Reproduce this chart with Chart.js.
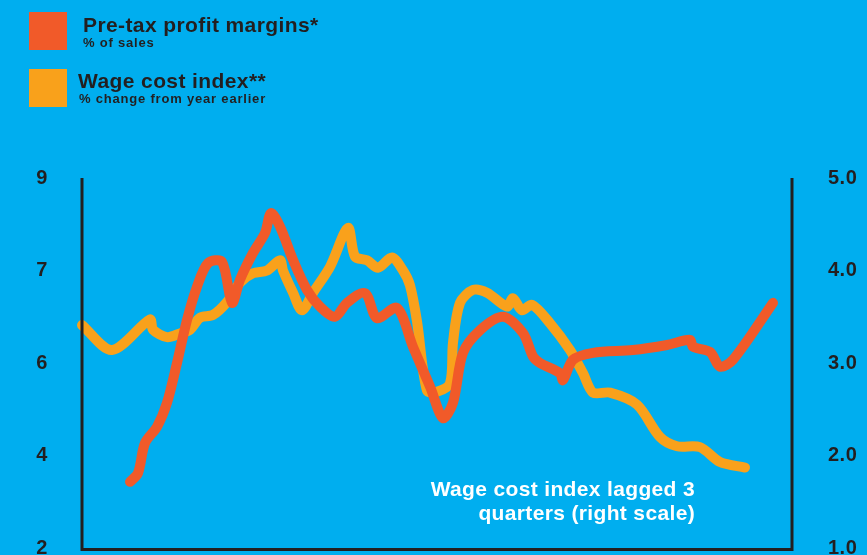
<!DOCTYPE html>
<html>
<head>
<meta charset="utf-8">
<script src="https://cdn.jsdelivr.net/npm/chart.js@4.4.1/dist/chart.umd.min.js"></script>
<style>
  html, body { margin: 0; padding: 0; background: #00AEEF; }
  #wrap { width: 867px; height: 555px; }
</style>
</head>
<body>
<div id="wrap"><canvas id="c" width="867" height="555"></canvas></div>
<script>
// ---- Data (x = quarter index) ----
const profitQuarters = [4.8, 5.6, 6.3, 7.5, 8.5, 9.5, 10.5, 11.5, 12.6, 14.0, 15.0, 15.8, 17.1, 18.3, 18.9, 19.8, 21.1, 22.5, 23.8, 25.3, 26.5, 28.3, 29.5, 31.5, 33.1, 34.8, 36.1, 37.1, 38.1, 39.8, 42.1, 44.1, 45.1, 45.8, 47.8, 48.1, 49.1, 51.1, 55.1, 58.5, 60.8, 61.1, 62.8, 63.8, 65.1, 69.1];
const profitMargins = [3.43, 3.62, 4.27, 4.62, 5.14, 6.0, 6.93, 7.65, 8.16, 8.19, 7.3, 7.8, 8.38, 8.81, 9.24, 8.95, 8.23, 7.58, 7.22, 7.0, 7.3, 7.51, 6.97, 7.19, 6.35, 5.49, 4.81, 5.14, 6.22, 6.71, 7.0, 6.65, 6.14, 6.0, 5.78, 5.63, 6.07, 6.22, 6.28, 6.39, 6.5, 6.35, 6.24, 5.92, 6.07, 7.3];

const wageQuarters = [0.0, 3.0, 6.8, 7.1, 8.5, 9.8, 10.8, 11.8, 13.1, 14.5, 15.8, 17.1, 18.5, 19.8, 20.1, 21.1, 22.0, 23.1, 24.8, 26.6, 27.3, 28.5, 29.6, 31.0, 32.1, 32.8, 33.5, 34.5, 35.5, 36.8, 37.1, 37.8, 39.1, 40.5, 42.5, 43.1, 44.0, 45.0, 46.8, 48.8, 50.1, 51.1, 52.8, 55.5, 57.8, 59.5, 61.8, 63.8, 66.3];
const wageCostIndex = [3.41, 3.14, 3.47, 3.36, 3.28, 3.32, 3.36, 3.49, 3.52, 3.66, 3.87, 3.97, 4.0, 4.11, 4.0, 3.76, 3.57, 3.76, 4.04, 4.46, 4.15, 4.11, 4.03, 4.14, 4.0, 3.84, 3.45, 2.7, 2.69, 2.78, 3.22, 3.65, 3.79, 3.76, 3.61, 3.7, 3.57, 3.63, 3.43, 3.14, 2.89, 2.68, 2.68, 2.55, 2.2, 2.1, 2.09, 1.93, 1.87];

const leftTickValues = [2, 4, 6, 8, 10];
const leftTickLabels = ['2', '4', '6', '7', '9'];
const rightTickValues = [1, 2, 3, 4, 5];
const rightTickLabels = ['1.0', '2.0', '3.0', '4.0', '5.0'];

const seriesNames = ['Pre-tax profit margins*', 'Wage cost index**'];
const seriesSubtitles = ['% of sales', '% change from year earlier'];
const annotationLines = ['Wage cost index lagged 3', 'quarters (right scale)'];

const BG = '#00AEEF', RED = '#F15A29', ORANGE = '#F9A11B', INK = '#231F20';
const FONT = '"Liberation Sans", Arial, Helvetica, sans-serif';

function spaced(ctx, px) { if ('letterSpacing' in ctx) ctx.letterSpacing = px + 'px'; }

const decor = {
  id: 'decor',
  beforeDraw(chart) {
    const ctx = chart.ctx;
    ctx.save();
    ctx.fillStyle = BG;
    ctx.fillRect(0, 0, chart.width, chart.height);
    ctx.restore();
  },
  afterDraw(chart) {
    const ctx = chart.ctx;
    const a = chart.chartArea;
    const yL = chart.scales.yL, yR = chart.scales.yR;
    ctx.save();
    // axis lines
    ctx.strokeStyle = INK;
    ctx.lineWidth = 3;
    ctx.lineCap = 'butt';
    ctx.beginPath();
    ctx.moveTo(a.left, a.top);
    ctx.lineTo(a.left, a.bottom + 1.5);
    ctx.lineTo(a.right, a.bottom + 1.5);
    ctx.lineTo(a.right, a.top);
    ctx.stroke();
    // tick labels
    ctx.fillStyle = INK;
    ctx.font = 'bold 20px ' + FONT;
    spaced(ctx, 0.5);
    ctx.textBaseline = 'middle';
    ctx.textAlign = 'center';
    leftTickValues.forEach((v, i) => ctx.fillText(leftTickLabels[i], 42, yL.getPixelForValue(v)));
    ctx.textAlign = 'left';
    rightTickValues.forEach((v, i) => ctx.fillText(rightTickLabels[i], 828, yR.getPixelForValue(v)));
    // legend
    ctx.textBaseline = 'alphabetic';
    ctx.fillStyle = RED;
    ctx.fillRect(29, 12, 38, 38);
    ctx.fillStyle = ORANGE;
    ctx.fillRect(29, 69, 38, 38);
    ctx.fillStyle = INK;
    ctx.font = 'bold 21px ' + FONT;
    spaced(ctx, 0.4);
    ctx.fillText(seriesNames[0], 83, 32);
    ctx.fillText(seriesNames[1], 78, 88);
    ctx.font = 'bold 13px ' + FONT;
    spaced(ctx, 0.8);
    ctx.fillText(seriesSubtitles[0], 83, 47);
    ctx.fillText(seriesSubtitles[1], 79, 103);
    // annotation
    ctx.fillStyle = '#FFFFFF';
    ctx.font = 'bold 21px ' + FONT;
    spaced(ctx, 0.35);
    ctx.textAlign = 'right';
    ctx.fillText(annotationLines[0], 695, 496);
    ctx.fillText(annotationLines[1], 695, 520);
    ctx.restore();
  }
};

new Chart(document.getElementById('c'), {
  type: 'line',
  data: {
    datasets: [
      {
        label: seriesNames[0],
        data: profitQuarters.map((q, i) => ({ x: q, y: profitMargins[i] })),
        yAxisID: 'yL',
        borderColor: RED,
        borderWidth: 10,
        tension: 0.3,
        borderCapStyle: 'round',
        borderJoinStyle: 'round',
        pointRadius: 0,
        clip: false,
        order: 0
      },
      {
        label: seriesNames[1],
        data: wageQuarters.map((q, i) => ({ x: q, y: wageCostIndex[i] })),
        yAxisID: 'yR',
        borderColor: ORANGE,
        borderWidth: 10,
        tension: 0.3,
        borderCapStyle: 'round',
        borderJoinStyle: 'round',
        pointRadius: 0,
        clip: false,
        order: 1
      }
    ]
  },
  options: {
    responsive: false,
    animation: false,
    devicePixelRatio: 1,
    layout: { padding: { left: 82, right: 75, top: 178, bottom: 7 } },
    plugins: { legend: { display: false }, tooltip: { enabled: false } },
    scales: {
      x: { type: 'linear', min: 0, max: 71, display: false },
      yL: { type: 'linear', position: 'left', min: 2, max: 10, display: false },
      yR: { type: 'linear', position: 'right', min: 1, max: 5, display: false }
    }
  },
  plugins: [decor]
});
</script>
</body>
</html>
